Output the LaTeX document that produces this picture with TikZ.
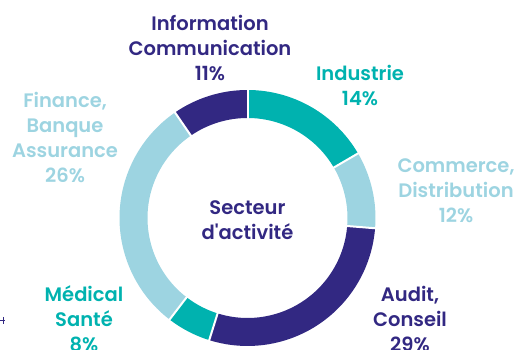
\documentclass[tikz,border=0pt]{standalone}
\usepackage{fontspec}
\setmainfont{Poppins}[BoldFont={Poppins SemiBold}]
\definecolor{secteurviolet}{RGB}{50,40,130}
\definecolor{secteurteal}{RGB}{0,178,175}
\definecolor{secteurbleu}{RGB}{157,212,225}

\begin{document}
\begin{tikzpicture}[x=1pt, y=1pt,
    ring/.style={line width=28pt},
    gap/.style={white, line width=2pt},
    label/.style={font=\bfseries\fontsize{19.5}{25}\selectfont, align=center, inner sep=0pt}]
    \useasboundingbox (0,0) rectangle (520,350);
    \coordinate (c) at (247.5,132);
    % ring segments
    \draw[ring, color=secteurviolet] (c) ++(124.5:114pt) arc[start angle=124.5, end angle=90, radius=114pt];
    \draw[ring, color=secteurteal] (c) ++(90:114pt) arc[start angle=90, end angle=30.3, radius=114pt];
    \draw[ring, color=secteurbleu] (c) ++(30.3:114pt) arc[start angle=30.3, end angle=-4.6, radius=114pt];
    \draw[ring, color=secteurviolet] (c) ++(-4.6:114pt) arc[start angle=-4.6, end angle=-107.4, radius=114pt];
    \draw[ring, color=secteurteal] (c) ++(-107.4:114pt) arc[start angle=-107.4, end angle=-127.5, radius=114pt];
    \draw[ring, color=secteurbleu] (c) ++(-127.5:114pt) arc[start angle=-127.5, end angle=-235.5, radius=114pt];
    % white gaps
    \draw[gap] (c) ++(124.5:98pt) -- ++(124.5:32pt);
    \draw[gap] (c) ++(90:98pt) -- ++(90:32pt);
    \draw[gap] (c) ++(30.3:98pt) -- ++(30.3:32pt);
    \draw[gap] (c) ++(-4.6:98pt) -- ++(-4.6:32pt);
    \draw[gap] (c) ++(-107.4:98pt) -- ++(-107.4:32pt);
    \draw[gap] (c) ++(-127.5:98pt) -- ++(-127.5:32pt);
    % labels
    \node[label, color=secteurviolet] (centre) at (247.5,130) {Secteur\\d\textquotesingle activité};
    \node[label, color=secteurviolet] (info) at (210,302) {Information\\Communication\\11\%};
    \node[label, color=secteurteal] (industrie) at (360,264.5) {Industrie\\14\%};
    \node[label, color=secteurbleu] (commerce) at (456,159) {Commerce,\\Distribution\\12\%};
    \node[label, color=secteurviolet] (audit) at (410,31) {Audit,\\Conseil\\29\%};
    \node[label, color=secteurteal] (medical) at (84,31.5) {Médical\\Santé\\8\%};
    \node[label, color=secteurbleu] (finance) at (65,212.5) {Finance,\\Banque\\Assurance\\26\%};
    \draw[secteurviolet, line width=1pt] (0,29.5) -- (5,29.5) (3,33) -- (3,26);
\end{tikzpicture}
\end{document}
